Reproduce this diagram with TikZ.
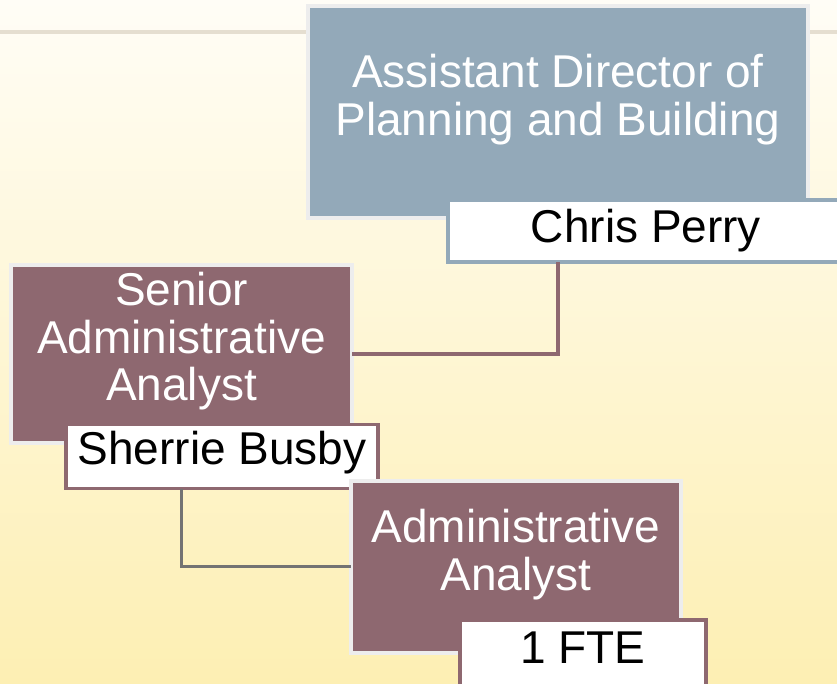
\documentclass[tikz,border=0pt]{standalone}
\usepackage{fontspec}
\setmainfont{Liberation Sans}
\usetikzlibrary{calc}

\definecolor{slateblue}{HTML}{93A9B9}
\definecolor{mauve}{HTML}{8E6870}
\definecolor{rulegrey}{HTML}{E5DED0}
\definecolor{linkgrey}{HTML}{737373}
\definecolor{paletop}{HTML}{FFFDF6}
\definecolor{palemid}{HTML}{FEF8DE}
\definecolor{palebottom}{HTML}{FDEFB3}

\begin{document}
\begin{tikzpicture}[x=1pt,y=-1pt,
	rolebox/.style={rectangle,draw=black!7,line width=4pt,inner sep=0pt,outer sep=0pt,anchor=north west},
	namebox/.style={rectangle,fill=white,line width=3.5pt,inner sep=0pt,outer sep=0pt,anchor=north west},
	roletext/.style={text=white,align=center,inner sep=0pt,anchor=north,font=\fontsize{46}{47.5}\selectfont},
	nametext/.style={text=black,inner sep=0pt,anchor=base,font=\fontsize{46}{47.5}\selectfont},
	link/.style={line width=3.3pt}]

	% Background
	\useasboundingbox (0,0) rectangle (837,683);
	\clip (0,0) rectangle (837,683);
	\shade[top color=paletop,middle color=palemid,bottom color=palebottom] (0,0) rectangle (837,683);
	\draw[rulegrey,line width=4pt] (0,32) -- (837,32);

	% Assistant director
	\node[rolebox,fill=slateblue,minimum width=500,minimum height=212] (director) at (308,6) {};
	\node[roletext] (directortitle) at ($(director.north)+(0,48)$) {Assistant Director of\\Planning and Building};
	\node[namebox,draw=slateblue,minimum width=397,minimum height=62] (chris) at (448,200) {};
	\node[nametext] (chrisname) at ($(chris.center)+(-0.5,11)$) {Chris Perry};

	% Senior analyst
	\node[rolebox,fill=mauve,minimum width=341,minimum height=178] (senior) at (11,265) {};
	\node[roletext] (seniortitle) at ($(senior.north)+(0,7)$) {Senior\\Administrative\\Analyst};
	\node[namebox,draw=mauve,minimum width=312,minimum height=64] (sherrie) at (66,424.5) {};
	\node[nametext] (sherriename) at ($(sherrie.center)+(0,7.5)$) {Sherrie Busby};

	% Analyst
	\node[rolebox,fill=mauve,minimum width=330,minimum height=171.5] (analyst) at (351,481) {};
	\node[roletext] (analysttitle) at ($(analyst.north)+(0,28)$) {Administrative\\Analyst};
	\node[namebox,draw=mauve,minimum width=246,minimum height=72] (fte) at (460,620) {};
	\node[nametext] (ftename) at ($(fte.center)+(0,7)$) {1 FTE};

	% Links
	\draw[link,mauve] (director.south |- chris.south) |- (senior.east);
	\draw[link,linkgrey,line width=3pt] (senior.south |- sherrie.south) |- (analyst.west);

\end{tikzpicture}
\end{document}
